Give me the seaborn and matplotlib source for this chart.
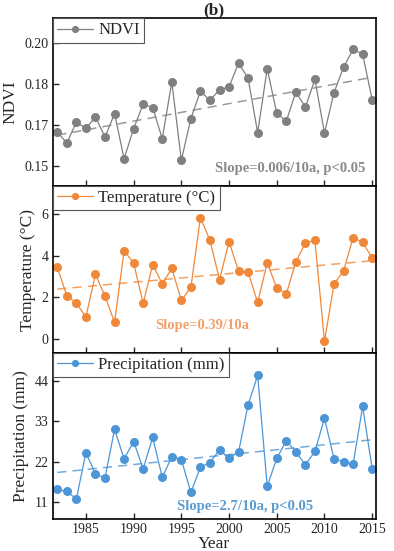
import numpy as np
import pandas as pd
import seaborn as sns
import matplotlib.pyplot as plt
from matplotlib.ticker import FormatStrFormatter

years = list(range(1982, 2016))

ndvi = [0.1625, 0.1584, 0.1661, 0.1638, 0.1680, 0.1606, 0.1692, 0.1527, 0.1637, 0.1727,
        0.1714, 0.1600, 0.1808, 0.1521, 0.1674, 0.1774, 0.1741, 0.1779, 0.1790, 0.1877,
        0.1821, 0.1622, 0.1857, 0.1693, 0.1665, 0.1771, 0.1716, 0.1817, 0.1621, 0.1769,
        0.1862, 0.1927, 0.1910, 0.1743]

temp = [3.45, 2.09, 1.72, 1.07, 3.11, 2.07, 0.80, 4.25, 3.66, 1.72,
        3.58, 2.66, 3.40, 1.86, 2.49, 5.84, 4.75, 2.86, 4.68, 3.27,
        3.21, 1.76, 3.66, 2.47, 2.17, 3.71, 4.62, 4.75, -0.11, 2.65,
        3.27, 4.88, 4.65, 3.90]

prec = [14.5, 14.0, 11.9, 24.5, 18.7, 17.6, 30.8, 22.8, 27.5, 20.1,
        28.6, 17.8, 23.4, 22.6, 13.7, 20.5, 21.8, 25.2, 23.0, 24.7,
        37.5, 45.4, 15.4, 22.9, 27.7, 24.7, 21.2, 24.8, 33.8, 22.8,
        22.0, 21.3, 37.0, 20.1]

df = pd.DataFrame({"Year": years, "NDVI": ndvi, "Temp": temp, "Prec": prec})

sns.set_style("ticks")
plt.rcParams["font.family"] = ["Liberation Serif", "DejaVu Serif"]
plt.rcParams["mathtext.fontset"] = "stix"

fig = plt.figure(figsize=(3.94, 5.51), dpi=100)

panels = [
    # column, legend label, ylabel, color, slope text, text color, text pos, ylim, yticks
    ("NDVI", "NDVI", "NDVI", "#808080", "Slope=0.006/10a, p<0.05", "#8a8a8a",
     (0.968, 0.107, "right"), (0.1427, 0.2041), [0.15, 0.165, 0.18, 0.195]),
    ("Temp", "Temperature (°C)", "Temperature (°C)", "#f0883a", "Slope=0.39/10a", "#f2a06a",
     (0.463, 0.165, "center"), (-0.67, 7.36), [0, 2, 4, 6]),
    ("Prec", "Precipitation (mm)", "Precipitation (mm)", "#4c96d7", "Slope=2.7/10a, p<0.05", "#5b9bd0",
     (0.595, 0.074, "center"), (6.5, 51.5), [11, 22, 33, 44]),
]

boxes = [(0.1333, 0.6624, 0.821, 0.3044),
         (0.1333, 0.3593, 0.821, 0.3031),
         (0.1333, 0.0581, 0.821, 0.3013)]

for i, (col, leg, ylab, color, stxt, scol, tpos, ylim, yt) in enumerate(panels):
    ax = fig.add_axes(boxes[i])
    sns.lineplot(data=df, x="Year", y=col, ax=ax, color=color, marker="o",
                 markersize=6.5, markeredgewidth=0, linewidth=0.9, label=leg)
    # linear trend
    k, b = np.polyfit(df["Year"], df[col], 1)
    ax.plot(df["Year"], k * df["Year"] + b, ls=(0, (6, 4)), color=color,
            alpha=0.8, linewidth=1.1)
    ax.set_xlim(1981.5, 2015.4)
    ax.set_ylim(*ylim)
    ax.set_yticks(yt)
    ax.set_xticks([1985, 1990, 1995, 2000, 2005, 2010, 2015])
    if col == "NDVI":
        ax.yaxis.set_major_formatter(FormatStrFormatter("%.2f"))
    ax.tick_params(direction="in", length=4, width=1, labelsize=10, pad=3)
    for s in ax.spines.values():
        s.set_linewidth(1.2)
        s.set_color("black")
    ax.set_ylabel(ylab, fontsize=12.5, labelpad=4)
    if i < 2:
        ax.set_xlabel("")
        ax.tick_params(labelbottom=False)
    else:
        ax.set_xlabel("Year", fontsize=12.5, labelpad=0)
    ax.text(tpos[0], tpos[1], stxt, transform=ax.transAxes, ha=tpos[2], va="center",
            fontsize=10.5, fontweight="bold", color=scol)
    lg = ax.legend(loc="upper left", borderaxespad=0, fancybox=False, fontsize=12,
                   handlelength=2.2, handletextpad=0.3, borderpad=0.25,
                   framealpha=1, markerscale=0.8)
    lg.get_frame().set_edgecolor("#555555")
    lg.get_frame().set_linewidth(0.8)
    if i == 0:
        ax.set_title("(b)", fontsize=12.5, fontweight="bold", pad=2)

fig.savefig("out.png", dpi=100)
